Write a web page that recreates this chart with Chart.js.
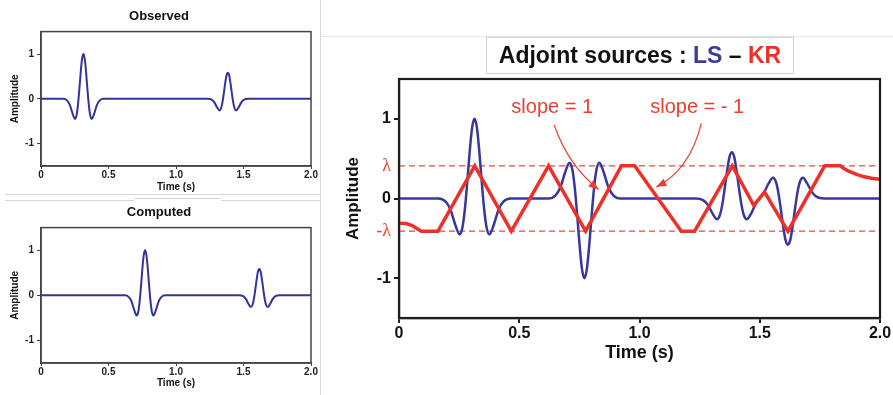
<!DOCTYPE html>
<html>
<head>
<meta charset="utf-8">
<script src="https://cdn.jsdelivr.net/npm/chart.js@4.4.1/dist/chart.umd.min.js"></script>
<style>
  body { margin: 0; background: #fff; width: 893px; height: 395px; overflow: hidden; position: relative; font-family: "Liberation Sans", Arial, sans-serif; }
  canvas { position: absolute; }
  .sep { position: absolute; background: #d8d8d8; }
  #titulo { position: absolute; left: 486px; top: 37px; width: 306px; height: 35px; border: 1px solid #d4d4d4;
            font: bold 23px "Liberation Sans", Arial, sans-serif; text-align: center; line-height: 35px; color: #111; }
</style>
</head>
<body>
<canvas id="obs" width="320" height="193" style="left:0;top:0"></canvas>
<canvas id="comp" width="320" height="198" style="left:0;top:197px"></canvas>
<canvas id="adj" width="571" height="395" style="left:322px;top:0"></canvas>

<div class="sep" style="left:320px;top:0;width:1px;height:395px"></div>
<div class="sep" style="left:5px;top:194px;width:315px;height:1px"></div>
<div class="sep" style="left:5px;top:200px;width:129px;height:1px"></div>
<div class="sep" style="left:134px;top:198px;width:87px;height:1px"></div>
<div class="sep" style="left:221px;top:200px;width:99px;height:1px"></div>
<div class="sep" style="left:322px;top:36px;width:571px;height:1px;background:#e6e6e6"></div>
<div id="titulo">Adjoint sources : <span style="color:#3b3b9e">LS</span> – <span style="color:#ec3228">KR</span></div>

<script>
// --- Dados ---
const xTicks = [0, 0.5, 1, 1.5, 2];
const xTickLabels = ['0', '0.5', '1.0', '1.5', '2.0'];
const yTicksSmall = [-1, 0, 1];
const lambda = 0.41;
const yTicksMain = [-1, -lambda, 0, lambda, 1];
const yTickLabelsMain = ['-1', '-λ', '0', 'λ', '1'];

// sismograma observado
const obsTime = [0, 0.164, 0.194, 0.214, 0.234, 0.252, 0.264, 0.274, 0.284, 0.294, 0.304, 0.314, 0.324, 0.334, 0.344, 0.354, 0.364, 0.376, 0.394, 0.414, 0.434, 0.464,
                 1.234, 1.264, 1.284, 1.304, 1.322, 1.334, 1.344, 1.354, 1.364, 1.374, 1.384, 1.394, 1.404, 1.414, 1.424, 1.434, 1.446, 1.464, 1.484, 1.504, 1.534, 2.0];
const obsAmp = [0, 0, -0.04, -0.14, -0.33, -0.45, -0.36, -0.13, 0.21, 0.59, 0.89, 1, 0.89, 0.59, 0.21, -0.13, -0.36, -0.45, -0.33, -0.14, -0.04, 0,
                0, -0.02, -0.08, -0.19, -0.26, -0.21, -0.08, 0.12, 0.34, 0.52, 0.58, 0.52, 0.34, 0.12, -0.08, -0.21, -0.26, -0.19, -0.08, -0.02, 0, 0];

// sismograma calculado
const compTime = [0, 0.621, 0.651, 0.671, 0.691, 0.709, 0.721, 0.731, 0.741, 0.751, 0.761, 0.771, 0.781, 0.791, 0.801, 0.811, 0.821, 0.833, 0.851, 0.871, 0.891, 0.921,
                  1.467, 1.497, 1.517, 1.537, 1.555, 1.567, 1.577, 1.587, 1.597, 1.607, 1.617, 1.627, 1.637, 1.647, 1.657, 1.667, 1.679, 1.697, 1.717, 1.737, 1.767, 2.0];
const compAmp = [0, 0, -0.04, -0.14, -0.33, -0.45, -0.36, -0.13, 0.21, 0.59, 0.89, 1, 0.89, 0.59, 0.21, -0.13, -0.36, -0.45, -0.33, -0.14, -0.04, 0,
                 0, -0.02, -0.08, -0.19, -0.26, -0.21, -0.08, 0.12, 0.34, 0.52, 0.58, 0.52, 0.34, 0.12, -0.08, -0.21, -0.26, -0.19, -0.08, -0.02, 0, 0];

// fonte adjunta LS
const lsTime = [0, 0.164, 0.194, 0.214, 0.234, 0.252, 0.264, 0.274, 0.284, 0.294, 0.304, 0.314, 0.324, 0.334, 0.344, 0.354, 0.364, 0.376, 0.394, 0.414, 0.434, 0.464,
                0.621, 0.651, 0.671, 0.691, 0.709, 0.721, 0.731, 0.741, 0.751, 0.761, 0.771, 0.781, 0.791, 0.801, 0.811, 0.821, 0.833, 0.851, 0.871, 0.891, 0.921,
                1.234, 1.264, 1.284, 1.304, 1.322, 1.334, 1.344, 1.354, 1.364, 1.374, 1.384, 1.394, 1.404, 1.414, 1.424, 1.434, 1.446, 1.464,
                1.484, 1.50, 1.517, 1.537,
                1.555, 1.567, 1.577, 1.587, 1.597, 1.607, 1.617, 1.627, 1.637, 1.647, 1.657, 1.667, 1.679, 1.697, 1.717, 1.737, 1.767, 2.0];
const lsAmp = [0, 0, -0.04, -0.14, -0.33, -0.45, -0.36, -0.13, 0.21, 0.59, 0.89, 1, 0.89, 0.59, 0.21, -0.13, -0.36, -0.45, -0.33, -0.14, -0.04, 0,
               0, 0.04, 0.14, 0.33, 0.45, 0.36, 0.13, -0.21, -0.59, -0.89, -1, -0.89, -0.59, -0.21, 0.13, 0.36, 0.45, 0.33, 0.14, 0.04, 0,
               0, -0.02, -0.08, -0.19, -0.26, -0.21, -0.08, 0.12, 0.34, 0.52, 0.58, 0.52, 0.34, 0.12, -0.08, -0.21, -0.26, -0.19,
               -0.06, 0, 0.07, 0.19,
               0.26, 0.21, 0.08, -0.12, -0.34, -0.52, -0.58, -0.52, -0.34, -0.12, 0.08, 0.21, 0.26, 0.19, 0.08, 0.02, 0, 0];

// fonte adjunta KR
const krTime = [0, 0.03, 0.055, 0.075, 0.093, 0.162, 0.315, 0.467, 0.622, 0.776, 0.925, 0.98, 1.174, 1.229, 1.386, 1.475, 1.52, 1.617, 1.77, 1.835,
                1.85, 1.865, 1.88, 1.9, 1.93, 1.965, 2.0];
const krAmp = [-0.31, -0.315, -0.34, -0.38, -0.41, -0.41, 0.41, -0.41, 0.41, -0.41, 0.41, 0.41, -0.41, -0.41, 0.41, -0.085, 0.08, -0.41, 0.41, 0.41,
               0.375, 0.35, 0.33, 0.305, 0.275, 0.255, 0.24];

const FAMILIA = '"Liberation Sans", Arial, sans-serif';
const AZUL = '#33339a';
const VERMELHO = '#ec3228';

const pontos = (xs, ys) => xs.map((x, i) => ({ x: x, y: ys[i] }));

// moldura completa em volta da área do gráfico
const moldura = {
    id: 'moldura',
    afterDatasetsDraw(chart, args, opts) {
        const a = chart.chartArea;
        const ctx = chart.ctx;
        ctx.save();
        ctx.strokeStyle = opts.color;
        ctx.lineWidth = opts.width;
        ctx.strokeRect(a.left, a.top, a.right - a.left, a.bottom - a.top);
        ctx.restore();
    }
};

// --- Gráficos pequenos ---
function graficoPequeno(id, titulo, tempo, amp, tituloPad, padBaixo, alturaX) {
    new Chart(document.getElementById(id), {
        type: 'line',
        data: {
            datasets: [{
                data: pontos(tempo, amp),
                borderColor: AZUL,
                borderWidth: 2,
                pointRadius: 0,
                cubicInterpolationMode: 'monotone'
            }]
        },
        options: {
            responsive: false,
            animation: false,
            events: [],
            layout: { padding: { left: 7, right: 9, top: 0, bottom: padBaixo } },
            plugins: {
                legend: { display: false },
                tooltip: { enabled: false },
                title: { display: true, text: titulo, color: '#111', font: { family: FAMILIA, size: 13, weight: 'bold' }, padding: tituloPad },
                moldura: { color: '#444', width: 1.5 }
            },
            scales: {
                x: {
                    type: 'linear', min: 0, max: 2,
                    afterBuildTicks: a => { a.ticks = xTicks.map(v => ({ value: v })); },
                    afterFit: a => { a.height = alturaX; },
                    ticks: { autoSkip: false, maxRotation: 0, padding: 0, color: '#222', font: { family: FAMILIA, size: 10, weight: 'bold' },
                             callback: (v, i) => xTickLabels[i] },
                    grid: { drawOnChartArea: false, tickLength: 3, color: '#444' },
                    border: { color: '#444', width: 1.5 },
                    title: { display: true, text: 'Time (s)', color: '#111', font: { family: FAMILIA, size: 10, weight: 'bold' }, padding: { top: 0, bottom: 0 } }
                },
                y: {
                    min: -1.5, max: 1.5,
                    afterBuildTicks: a => { a.ticks = yTicksSmall.map(v => ({ value: v })); },
                    afterFit: a => { a.width = 34; },
                    ticks: { padding: 3, color: '#222', font: { family: FAMILIA, size: 10, weight: 'bold' } },
                    grid: { drawOnChartArea: false, tickLength: 4, color: '#444' },
                    border: { color: '#444', width: 1.5 },
                    title: { display: true, text: 'Amplitude', color: '#111', font: { family: FAMILIA, size: 10, weight: 'bold' }, padding: { top: 2, bottom: 0 } }
                }
            }
        },
        plugins: [moldura]
    });
}

graficoPequeno('obs', 'Observed', obsTime, obsAmp, { top: 9, bottom: 7 }, 0, 27);
graficoPequeno('comp', 'Computed', compTime, compAmp, { top: 8, bottom: 7 }, 6, 26);

// --- Anotações do gráfico principal (inclinação) ---
const anotacoes = {
    id: 'anotacoes',
    afterDraw(chart) {
        const ctx = chart.ctx;
        const sx = chart.scales.x, sy = chart.scales.y;
        const px = (x, y) => [sx.getPixelForValue(x), sy.getPixelForValue(y)];
        ctx.save();
        ctx.fillStyle = '#ec3f30';
        ctx.strokeStyle = '#ec3f30';
        ctx.font = '20px ' + FAMILIA;
        ctx.textAlign = 'center';
        ctx.textBaseline = 'middle';
        let p = px(0.637, 1.137);
        ctx.fillText('slope = 1', p[0], p[1]);
        p = px(1.24, 1.137);
        ctx.fillText('slope = - 1', p[0], p[1]);

        const seta = (a, c, b) => {
            const [x0, y0] = px(a[0], a[1]);
            const [cx, cy] = px(c[0], c[1]);
            const [x1, y1] = px(b[0], b[1]);
            ctx.lineWidth = 1.2;
            ctx.beginPath();
            ctx.moveTo(x0, y0);
            ctx.quadraticCurveTo(cx, cy, x1, y1);
            ctx.stroke();
            const ang = Math.atan2(y1 - cy, x1 - cx);
            ctx.beginPath();
            ctx.moveTo(x1, y1);
            ctx.lineTo(x1 - 10 * Math.cos(ang) + 4 * Math.sin(ang), y1 - 10 * Math.sin(ang) - 4 * Math.cos(ang));
            ctx.lineTo(x1 - 10 * Math.cos(ang) - 4 * Math.sin(ang), y1 - 10 * Math.sin(ang) + 4 * Math.cos(ang));
            ctx.closePath();
            ctx.fill();
        };
        seta([0.645, 0.922], [0.705, 0.41], [0.83, 0.113]);
        seta([1.257, 0.943], [1.209, 0.356], [1.07, 0.146]);
        ctx.restore();
    }
};

// --- Gráfico principal ---
const ehLambda = c => !!(c && c.tick) && Math.abs(Math.abs(c.tick.value) - lambda) < 1e-6;
const fonteNum = { family: FAMILIA, size: 16, weight: 'bold' };
const fonteLambda = { family: '"Liberation Serif", "DejaVu Serif", serif', size: 18, weight: 'normal' };

new Chart(document.getElementById('adj'), {
    type: 'line',
    data: {
        datasets: [
            { data: pontos(krTime, krAmp), borderColor: VERMELHO, borderWidth: 3.5, pointRadius: 0, tension: 0, borderJoinStyle: 'miter' },
            { data: pontos(lsTime, lsAmp), borderColor: '#38389c', borderWidth: 2.5, pointRadius: 0, cubicInterpolationMode: 'monotone' },
            { data: pontos([0, 2], [lambda, lambda]), borderColor: '#e8473b', borderWidth: 1.4, borderDash: [6, 4], pointRadius: 0 },
            { data: pontos([0, 2], [-lambda, -lambda]), borderColor: '#e8473b', borderWidth: 1.4, borderDash: [6, 4], pointRadius: 0 }
        ]
    },
    options: {
        responsive: false,
        animation: false,
        events: [],
        layout: { padding: { left: 17, right: 13, top: 79, bottom: 27 } },
        plugins: {
            legend: { display: false },
            tooltip: { enabled: false },
            moldura: { color: '#1e1e1e', width: 2.2 }
        },
        scales: {
            x: {
                type: 'linear', min: 0, max: 2,
                afterBuildTicks: a => { a.ticks = xTicks.map(v => ({ value: v })); },
                afterFit: a => { a.height = 50; },
                ticks: { autoSkip: false, maxRotation: 0, padding: 1, color: '#111', font: fonteNum,
                         callback: (v, i) => xTickLabels[i] },
                grid: { drawOnChartArea: false, tickLength: 5, color: '#1e1e1e', lineWidth: 2 },
                border: { color: '#1e1e1e', width: 2.2 },
                title: { display: true, text: 'Time (s)', color: '#111', font: { family: FAMILIA, size: 18, weight: 'bold' }, padding: { top: 0, bottom: 4 } }
            },
            y: {
                min: -1.5, max: 1.5,
                afterBuildTicks: a => { a.ticks = yTicksMain.map(v => ({ value: v })); },
                afterFit: a => { a.width = 60; },
                ticks: {
                    padding: 3,
                    color: c => ehLambda(c) ? '#ec3f30' : '#111',
                    font: c => ehLambda(c) ? fonteLambda : fonteNum,
                    callback: (v, i) => yTickLabelsMain[i]
                },
                grid: { drawOnChartArea: false, tickLength: 5, lineWidth: 2,
                        color: c => ehLambda(c) ? 'rgba(0,0,0,0)' : '#1e1e1e' },
                border: { color: '#1e1e1e', width: 2.2 },
                title: { display: true, text: 'Amplitude', color: '#111', font: { family: FAMILIA, size: 17, weight: 'bold' }, padding: { top: 4, bottom: 0 } }
            }
        }
    },
    plugins: [moldura, anotacoes]
});
</script>
</body>
</html>
